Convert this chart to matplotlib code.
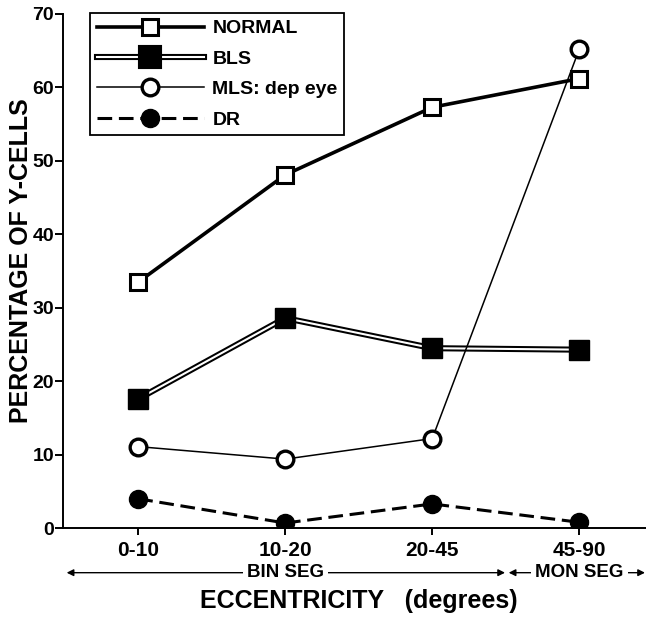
import matplotlib
matplotlib.use("Agg")
import matplotlib.pyplot as plt
from matplotlib.lines import Line2D
import matplotlib.patheffects as pe

plt.rcParams['font.family'] = ['Liberation Sans', 'DejaVu Sans']
plt.rcParams['font.weight'] = 'bold'

categories = ["0-10", "10-20", "20-45", "45-90"]
normal = [33.5, 48.1, 57.3, 61.2]
bls = [17.6, 28.6, 24.5, 24.3]
mls = [11.1, 9.4, 12.2, 65.2]
dr = [4.0, 0.7, 3.3, 0.8]
yticks = [0, 10, 20, 30, 40, 50, 60, 70]

xs = [1, 2, 3, 4]

fig = plt.figure(figsize=(6.46, 6.21), dpi=100)
ax = fig.add_axes([0.0975, 0.1495, 0.9025, 0.828])

bls_fx = [pe.Stroke(linewidth=4.4, foreground='black'), pe.Normal()]

# NORMAL
ax.plot(xs, normal, color='black', lw=2.6, zorder=3)
ax.plot(xs, normal, ls='none', marker='s', ms=11.5, mfc='white', mec='black', mew=2.2, zorder=5)
# BLS double line
ax.plot(xs, bls, color='white', lw=1.5, zorder=3, path_effects=bls_fx)
ax.plot(xs, bls, ls='none', marker='s', ms=14, mfc='black', mec='black', zorder=5)
# MLS
ax.plot(xs, mls, color='black', lw=1.1, zorder=3)
ax.plot(xs, mls, ls='none', marker='o', ms=12, mfc='white', mec='black', mew=2.4, zorder=5)
# DR
ax.plot(xs, dr, color='black', lw=2.2, ls=(0, (4.8, 2.2)), zorder=3)
ax.plot(xs, dr, ls='none', marker='o', ms=13, mfc='black', mec='black', zorder=5)

ax.set_xlim(0.488, 4.454)
ax.set_ylim(0, 70)
ax.set_yticks(yticks)
ax.set_yticklabels([str(v) for v in yticks])
ax.set_xticks(xs)
ax.set_xticklabels(categories)
ax.spines['top'].set_visible(False)
ax.spines['right'].set_visible(False)
for s in ['left', 'bottom']:
    ax.spines[s].set_linewidth(1.4)
ax.tick_params(axis='y', direction='out', length=6, width=1.4, labelsize=14, pad=0.5)
ax.tick_params(axis='x', direction='out', length=5, width=1.4, labelsize=15, pad=4)
for lab in ax.get_xticklabels() + ax.get_yticklabels():
    lab.set_fontweight('bold')

ax.set_ylabel("PERCENTAGE OF Y-CELLS", fontsize=18, fontweight='bold')
ax.yaxis.set_label_coords(-0.052, 0.521)

# Segment arrows
yarr = -0.0866
ax.annotate('', xy=(0.513, yarr), xytext=(3.495, yarr), xycoords=('data', 'axes fraction'),
            textcoords=('data', 'axes fraction'),
            arrowprops=dict(arrowstyle='<|-|>', color='black', lw=1.0, mutation_scale=10,
                            shrinkA=0, shrinkB=0))
ax.annotate('', xy=(3.52, yarr), xytext=(4.447, yarr), xycoords=('data', 'axes fraction'),
            textcoords=('data', 'axes fraction'),
            arrowprops=dict(arrowstyle='<|-|>', color='black', lw=1.0, mutation_scale=10,
                            shrinkA=0, shrinkB=0))
ax.text(2.0, yarr, "BIN SEG", transform=ax.get_xaxis_transform(), ha='center', va='center',
        fontsize=13.5, fontweight='bold',
        bbox=dict(facecolor='white', edgecolor='none', pad=3), clip_on=False, zorder=6)
ax.text(4.0, yarr, "MON SEG", transform=ax.get_xaxis_transform(), ha='center', va='center',
        fontsize=13.5, fontweight='bold',
        bbox=dict(facecolor='white', edgecolor='none', pad=3), clip_on=False, zorder=6)

fig.text(0.556, 0.032, "ECCENTRICITY   (degrees)", ha='center', va='center',
         fontsize=18, fontweight='bold')

# Legend
h_normal = Line2D([], [], color='black', lw=2.6, marker='s', ms=11.5, mfc='white', mec='black', mew=2.2)
h_bls = Line2D([], [], color='white', lw=1.5, marker='s', ms=13, mfc='black', mec='black',
               path_effects=bls_fx)
h_mls = Line2D([], [], color='black', lw=1.1, marker='o', ms=12, mfc='white', mec='black', mew=2.4)
h_dr = Line2D([], [], color='black', lw=2.2, ls=(0, (4.8, 2.2)), marker='o', ms=13, mfc='black', mec='black')
leg = ax.legend([h_normal, h_bls, h_mls, h_dr], ["NORMAL", "BLS", "MLS: dep eye", "DR"],
                loc='upper left', bbox_to_anchor=(0.046, 1.002), borderaxespad=0,
                fancybox=False, edgecolor='black', framealpha=1, handlelength=5.5,
                handletextpad=0.45, labelspacing=0.66, borderpad=0.35,
                prop=dict(size=14, weight='bold'))
leg.get_frame().set_linewidth(1.3)

fig.savefig("out.png", dpi=100)
